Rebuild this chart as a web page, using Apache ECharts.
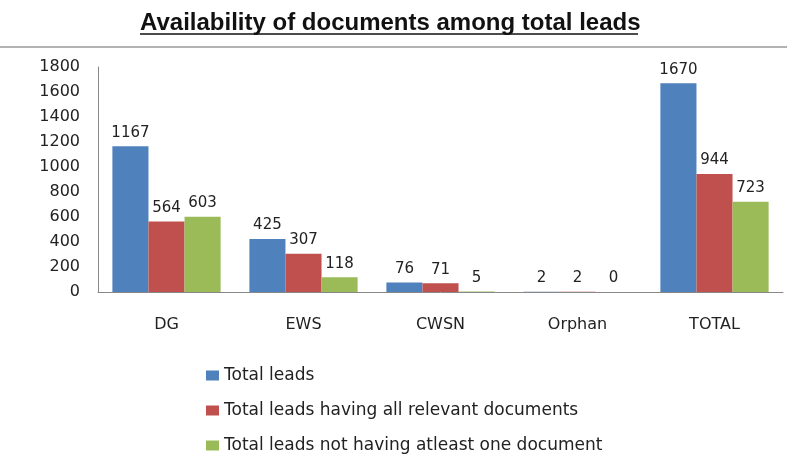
<!DOCTYPE html>
<html><head><meta charset="utf-8">
<script src="https://cdn.jsdelivr.net/npm/echarts@6/dist/echarts.min.js"></script>
<style>html,body{margin:0;padding:0;background:#fff}#c{width:787px;height:455px}</style>
</head><body><div id="c"></div>
<script>
const categories = ['DG', 'EWS', 'CWSN', 'Orphan', 'TOTAL'];
const totalLeads = [1167, 425, 76, 2, 1670];
const allDocs = [564, 307, 71, 2, 944];
const notAtleastOne = [603, 118, 5, 0, 723];
const seriesNames = ['Total leads', 'Total leads having all relevant documents', 'Total leads not having atleast one document'];
const colors = ['#4F81BD', '#C0504D', '#9BBB59'];
const font = 'DejaVu Sans';

const chart = echarts.init(document.getElementById('c'));
const mk = (name, data, color) => ({
  name, type: 'bar', data, barGap: '0%', barCategoryGap: '21%',
  itemStyle: { color },
  label: { show: true, position: 'top', distance: 6, color: '#222', fontFamily: font, fontSize: 15 }
});
chart.setOption({
  animation: false,
  title: {
    text: 'Availability of documents among total leads',
    left: 135, top: 6,
    textStyle: { fontFamily: 'Liberation Sans', fontWeight: 'bold', fontSize: 24, color: '#111' }
  },
  graphic: [
    { type: 'line', shape: { x1: 140, y1: 34, x2: 638, y2: 34 }, style: { stroke: '#111', lineWidth: 1.5 } },
    { type: 'line', shape: { x1: 0, y1: 47, x2: 787, y2: 47 }, style: { stroke: '#999', lineWidth: 1.5 } }
  ],
  legend: {
    orient: 'vertical', left: 201, top: 362, height: 100, itemGap: 18,
    itemWidth: 13, itemHeight: 10, icon: 'rect',
    textStyle: { fontFamily: font, fontSize: 17, color: '#222' },
    data: seriesNames
  },
  grid: { left: 98, right: 4, top: 67, bottom: 163, containLabel: false },
  xAxis: {
    type: 'category', data: categories,
    axisLine: { lineStyle: { color: '#888' } },
    axisTick: { show: false },
    axisLabel: { fontFamily: font, fontSize: 16, color: '#222', margin: 25 }
  },
  yAxis: {
    type: 'value', min: 0, max: 1800, interval: 200,
    axisLine: { show: true, lineStyle: { color: '#888' } },
    axisTick: { show: false },
    splitLine: { show: false },
    axisLabel: { fontFamily: font, fontSize: 16, color: '#222', margin: 18, formatter: v => String(v) }
  },
  series: [
    mk(seriesNames[0], totalLeads, colors[0]),
    mk(seriesNames[1], allDocs, colors[1]),
    mk(seriesNames[2], notAtleastOne, colors[2])
  ]
});
</script></body></html>
